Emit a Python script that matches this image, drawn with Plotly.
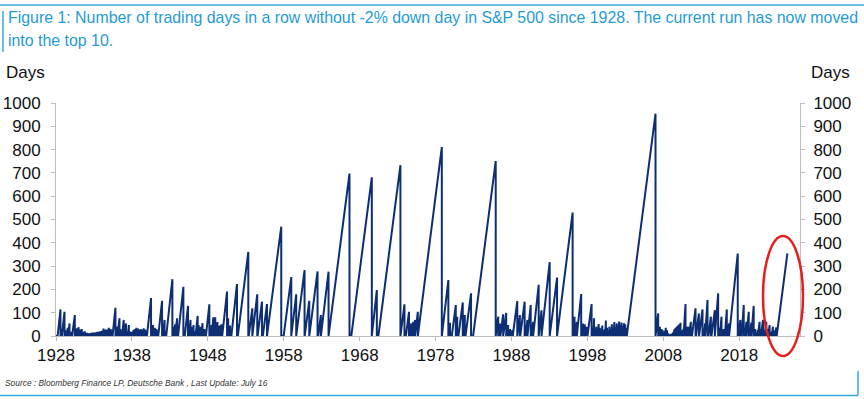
import plotly.graph_objects as go

# ---- data: each run = (year the run ended / last observation, trading days in the run) ----
runs_1928_1940 = [
    (1928.59, 114), (1928.75, 30), (1929.12, 104), (1929.25, 25), (1929.40, 15), (1929.55, 35),
    (1929.78, 54), (1929.88, 12), (1929.96, 18), (1930.05, 10), (1930.20, 25), (1930.48, 90),
    (1930.55, 12), (1930.62, 18), (1930.69, 10), (1930.76, 33), (1930.83, 15), (1930.90, 22),
    (1930.97, 38), (1931.04, 12), (1931.11, 28), (1931.18, 10), (1931.25, 20), (1931.32, 14),
    (1931.39, 30), (1931.46, 12), (1931.53, 18), (1931.60, 8), (1931.67, 15), (1931.74, 10),
    (1931.81, 20), (1931.88, 8), (1931.95, 12), (1932.02, 6), (1932.09, 14), (1932.16, 8),
    (1932.23, 10), (1932.30, 6), (1932.37, 12), (1932.44, 8), (1932.51, 10), (1932.58, 6),
    (1932.65, 14), (1932.72, 9), (1932.79, 12), (1932.86, 8), (1932.93, 15), (1933.00, 10),
    (1933.07, 12), (1933.14, 8), (1933.21, 14), (1933.28, 10), (1933.35, 16), (1933.42, 9),
    (1933.49, 18), (1933.56, 12), (1933.63, 15), (1933.70, 10), (1933.77, 20), (1933.84, 14),
    (1933.91, 18), (1933.98, 12), (1934.05, 22), (1934.12, 15), (1934.19, 20), (1934.26, 32),
    (1934.33, 16), (1934.40, 25), (1934.47, 18), (1934.54, 28), (1934.61, 20), (1934.68, 26),
    (1934.75, 18), (1934.82, 28), (1934.89, 22), (1934.96, 35), (1935.05, 25), (1935.15, 30),
    (1935.25, 20), (1935.35, 28), (1935.45, 22), (1935.83, 121), (1935.95, 30), (1936.10, 40),
    (1936.36, 76), (1936.48, 30), (1936.62, 20), (1936.92, 69), (1937.04, 25), (1937.22, 54),
    (1937.32, 20), (1937.42, 15), (1937.60, 47), (1937.68, 12), (1937.76, 19), (1937.83, 10),
    (1937.90, 14), (1937.97, 8), (1938.04, 18), (1938.11, 10), (1938.20, 25), (1938.28, 14),
    (1938.38, 30), (1938.47, 20), (1938.58, 35), (1938.68, 22), (1938.80, 32), (1938.90, 20),
    (1939.00, 28), (1939.10, 15), (1939.22, 30), (1939.32, 18), (1939.43, 25), (1939.55, 33),
    (1939.65, 20), (1939.75, 28), (1939.85, 22),
]
runs_1940_1953 = [
    (1940.52, 163), (1940.62, 30), (1940.78, 47), (1940.90, 25), (1941.02, 35), (1941.12, 20),
    (1941.22, 30), (1941.35, 25), (1941.97, 151), (1942.08, 30), (1942.30, 69), (1942.40, 20),
    (1943.33, 244), (1943.50, 40), (1943.70, 50), (1943.95, 76), (1944.78, 211), (1945.39, 129),
    (1945.50, 30), (1945.72, 69), (1945.85, 40), (1946.00, 25), (1946.12, 47), (1946.22, 20),
    (1946.66, 86), (1946.78, 47), (1946.88, 20), (1947.02, 40), (1947.12, 25), (1947.30, 55),
    (1947.40, 15), (1947.55, 30), (1947.68, 25), (1948.20, 136), (1948.30, 30), (1948.42, 47),
    (1948.52, 20), (1948.72, 80), (1948.80, 25), (1948.98, 80), (1949.08, 30), (1949.26, 60),
    (1949.34, 20), (1949.50, 45), (1949.60, 25), (1949.78, 50), (1950.53, 191), (1950.68, 76),
    (1950.76, 20), (1950.92, 45), (1951.02, 25), (1951.84, 223), (1951.95, 50), (1953.33, 361),
]
runs_1953_1978 = [
    (1953.86, 119), (1954.51, 179), (1955.13, 147), (1955.79, 137), (1957.67, 469), (1958.99, 253),
    (1959.64, 179), (1960.74, 283), (1961.36, 151), (1962.45, 277), (1962.89, 90), (1963.90, 276),
    (1966.66, 697), (1969.60, 681), (1970.26, 197), (1973.37, 733), (1973.90, 136), (1974.50, 104),
    (1974.80, 54), (1975.05, 61), (1975.30, 69), (1975.66, 104), (1978.82, 811),
]
runs_1979_2007 = [
    (1979.68, 240), (1979.90, 57), (1980.66, 133), (1980.85, 83), (1981.58, 144), (1981.85, 90),
    (1982.67, 183), (1985.92, 751), (1986.25, 83), (1986.50, 54), (1986.90, 93), (1987.30, 99),
    (1987.55, 47), (1987.80, 30), (1987.88, 15), (1987.95, 20), (1988.10, 25), (1988.76, 150),
    (1989.10, 90), (1989.73, 147), (1990.10, 69), (1990.53, 133), (1990.85, 61), (1991.58, 220),
    (1991.95, 110), (1993.03, 317), (1994.00, 251), (1996.05, 530), (1996.30, 83), (1996.60, 61),
    (1997.18, 180), (1997.42, 54), (1997.65, 50), (1997.90, 40), (1998.55, 137),
    (1998.65, 20), (1998.72, 35), (1998.80, 15), (1998.87, 76), (1998.95, 12), (1999.02, 25),
    (1999.10, 18), (1999.18, 40), (1999.25, 15), (1999.33, 30), (1999.40, 12), (1999.48, 51),
    (1999.56, 20), (1999.64, 35), (1999.72, 14), (1999.80, 28), (1999.88, 18), (1999.96, 45),
    (2000.04, 12), (2000.12, 22), (2000.20, 10), (2000.28, 30), (2000.35, 15), (2000.43, 66),
    (2000.50, 20), (2000.58, 35), (2000.66, 12), (2000.74, 25), (2000.82, 18), (2000.90, 40),
    (2000.98, 15), (2001.06, 30), (2001.14, 20), (2001.22, 50), (2001.30, 15), (2001.38, 35),
    (2001.46, 22), (2001.54, 60), (2001.62, 18), (2001.70, 40), (2001.78, 25), (2001.86, 55),
    (2001.94, 20), (2002.02, 45), (2002.10, 30), (2002.18, 62), (2002.26, 20), (2002.34, 48),
    (2002.42, 28), (2002.50, 58), (2002.58, 22), (2002.66, 44), (2002.74, 30), (2002.82, 55),
    (2002.90, 25), (2002.98, 50), (2003.06, 20), (2003.14, 35), (2006.97, 954),
]
runs_2007_2024 = [
    (2007.32, 97), (2007.45, 25), (2007.55, 40), (2007.65, 15), (2007.75, 30), (2007.83, 12),
    (2007.92, 25), (2008.00, 10), (2008.08, 18), (2008.16, 8), (2008.24, 22), (2008.32, 35),
    (2008.40, 15), (2008.48, 25), (2008.56, 10), (2008.64, 12), (2008.70, 6), (2008.76, 5),
    (2008.82, 4), (2008.88, 6), (2008.94, 5), (2009.00, 8), (2009.06, 6), (2009.12, 10),
    (2009.18, 8), (2009.24, 12), (2009.30, 15), (2009.38, 20), (2009.46, 28), (2009.54, 22),
    (2009.62, 35), (2009.70, 25), (2009.78, 40), (2009.86, 30), (2009.94, 45), (2010.02, 28),
    (2010.10, 50), (2010.18, 30), (2010.26, 57), (2010.34, 20), (2010.42, 12), (2010.50, 25),
    (2010.58, 15), (2010.66, 30), (2010.92, 137), (2011.10, 40), (2011.27, 40), (2011.45, 20),
    (2011.62, 61), (2011.75, 15), (2012.24, 119), (2012.68, 97), (2013.16, 114), (2013.35, 30),
    (2013.50, 54), (2013.82, 154), (2014.26, 83), (2014.78, 111), (2015.22, 183), (2015.45, 35),
    (2015.66, 83), (2015.80, 20), (2015.95, 30), (2016.10, 25), (2016.36, 114), (2016.66, 54),
    (2017.80, 354), (2018.14, 69), (2018.30, 20), (2018.59, 133), (2018.75, 20), (2018.94, 61),
    (2019.25, 104), (2019.40, 25), (2019.59, 57), (2019.90, 129), (2020.10, 30), (2020.18, 10),
    (2020.22, 5), (2020.26, 4), (2020.30, 6), (2020.36, 12), (2020.44, 25), (2020.68, 61),
    (2020.80, 30), (2021.13, 69), (2021.25, 25), (2021.56, 61), (2021.75, 30), (2022.00, 47),
    (2022.10, 15), (2022.20, 12), (2022.30, 20), (2022.43, 40), (2022.55, 15), (2022.65, 25),
    (2022.87, 37), (2024.34, 355),
]

x_tick_years = [1928, 1938, 1948, 1958, 1968, 1978, 1988, 1998, 2008, 2018]
y_tick_values = [0, 100, 200, 300, 400, 500, 600, 700, 800, 900, 1000]

title_line1 = "Figure 1: Number of trading days in a row without -2% down day in S&P 500 since 1928. The current run has now moved"
title_line2 = "into the top 10."
source_text = "Source : Bloomberg Finance LP, Deutsche Bank , Last Update: July 16"

# ---- build sawtooth: each run climbs one day per trading day, then resets to 0 ----
def trading_days_per_year(year):
    return 300 if year < 1952.5 else 252  # Saturday sessions before 1952

runs = runs_1928_1940 + runs_1940_1953 + runs_1953_1978 + runs_1979_2007 + runs_2007_2024
xs, ys = [1928.0], [0]
prev_end = 1928.0
for i, (end, days) in enumerate(runs):
    start = max(prev_end, end - days / trading_days_per_year(end))
    xs += [start, end]
    ys += [0, days]
    if i < len(runs) - 1:
        xs.append(end)
        ys.append(0)
    prev_end = end

NAVY = "#0d2e73"
BLUE_TXT = "#1f9bd5"
BLUE_LINE = "#3aa7de"
AX = "#bdbdbd"
FONT = "Liberation Sans, Arial, sans-serif"

fig = go.Figure()
fig.add_trace(go.Scatter(x=xs, y=ys, mode="lines", line=dict(color=NAVY, width=2),
                         hoverinfo="skip", showlegend=False))
fig.add_trace(go.Scatter(x=[1928], y=[0], yaxis="y2", mode="markers",
                         marker=dict(opacity=0), hoverinfo="skip", showlegend=False))

L, R, T, B = 56, 64, 103, 63
W, H = 864, 399
PW, PH = W - L - R, H - T - B

def px(xp):
    return (xp - L) / PW

def py(yp):
    return (H - B - yp) / PH

axis_common = dict(range=[0, 1000], tickvals=y_tick_values, ticks="outside", ticklen=4,
                   tickcolor=AX, showline=True, linecolor=AX, linewidth=1, showgrid=False,
                   zeroline=False, tickfont=dict(family=FONT, size=17, color="#111111"),
                   fixedrange=True, automargin=False)

fig.update_layout(
    width=W, height=H,
    margin=dict(l=L, r=R, t=T, b=B, pad=0, autoexpand=False),
    paper_bgcolor="white", plot_bgcolor="white",
    xaxis=dict(range=[1928, 2026], tickvals=x_tick_years, ticks="outside", ticklen=4,
               tickcolor=AX, showline=True, linecolor=AX, linewidth=1, showgrid=False,
               zeroline=False, tickfont=dict(family=FONT, size=17, color="#111111"),
               ticklabelstandoff=0, fixedrange=True, automargin=False),
    yaxis=dict(**axis_common, side="left", ticklabelstandoff=7),
    yaxis2=dict(**axis_common, side="right", overlaying="y", ticklabelstandoff=5),
    font=dict(family=FONT),
)

annotations = [
    dict(text=title_line1, x=px(6), y=py(17), xref="paper", yref="paper", xanchor="left",
         yanchor="middle", showarrow=False,
         font=dict(family=FONT, size=15.9, color=BLUE_TXT)),
    dict(text=title_line2, x=px(6), y=py(41), xref="paper", yref="paper", xanchor="left",
         yanchor="middle", showarrow=False,
         font=dict(family=FONT, size=15.9, color=BLUE_TXT)),
    dict(text="Days", x=px(4), y=py(72.7), xref="paper", yref="paper", xanchor="left",
         yanchor="middle", showarrow=False, font=dict(family=FONT, size=17, color="#111111")),
    dict(text="Days", x=px(809), y=py(72.7), xref="paper", yref="paper", xanchor="left",
         yanchor="middle", showarrow=False, font=dict(family=FONT, size=17, color="#111111")),
    dict(text="<i>" + source_text + "</i>", x=px(3), y=py(383), xref="paper", yref="paper",
         xanchor="left", yanchor="middle", showarrow=False,
         font=dict(family=FONT, size=8.4, color="#333333")),
]
fig.update_layout(annotations=annotations)

shapes = [
    dict(type="line", xref="paper", yref="paper", x0=px(0), x1=px(864), y0=py(5), y1=py(5),
         line=dict(color=BLUE_LINE, width=1.5)),
    dict(type="line", xref="paper", yref="paper", x0=px(3), x1=px(3), y0=py(11), y1=py(52),
         line=dict(color=BLUE_LINE, width=1.5)),
    dict(type="line", xref="paper", yref="paper", x0=px(0), x1=px(858), y0=py(395.5), y1=py(395.5),
         line=dict(color=BLUE_LINE, width=1.5)),
    dict(type="line", xref="paper", yref="paper", x0=px(858), x1=px(858), y0=py(371), y1=py(395.5),
         line=dict(color=BLUE_LINE, width=1.5)),
    dict(type="circle", xref="paper", yref="paper", x0=px(763), x1=px(803), y0=py(356), y1=py(236),
         line=dict(color="#e3201b", width=2.5)),
]
fig.update_layout(shapes=shapes)

fig.write_html("out.html", config={"displayModeBar": False},
               post_script="document.body.style.margin='0';document.body.style.overflow='hidden';")
